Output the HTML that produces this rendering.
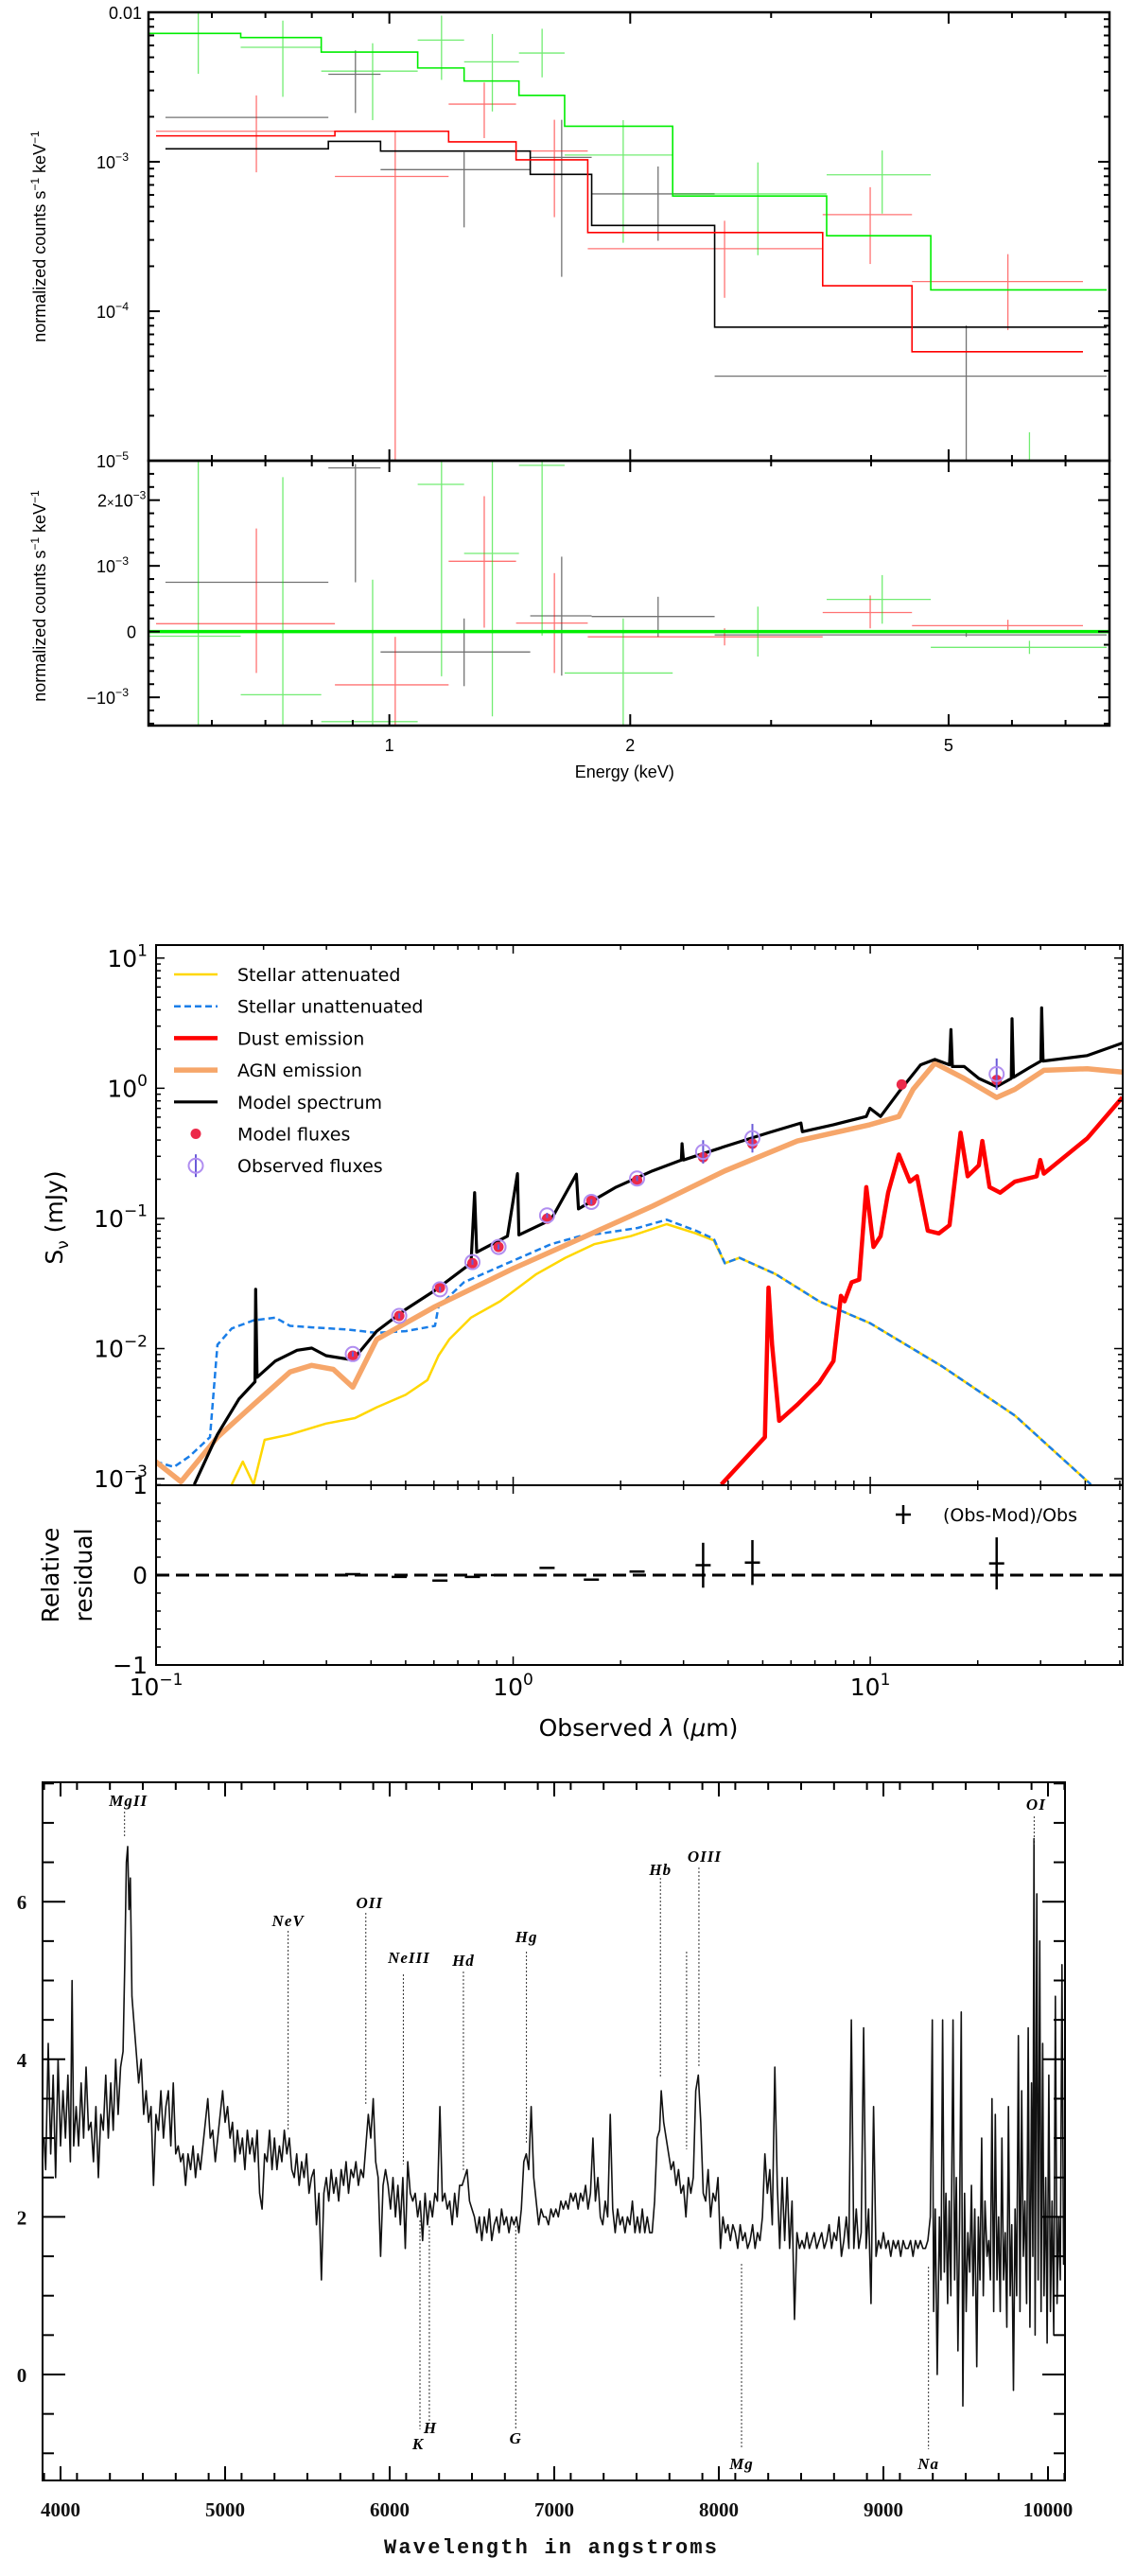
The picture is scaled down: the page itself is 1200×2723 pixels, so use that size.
<!DOCTYPE html>
<html><head><meta charset="utf-8"><title>X-ray, SED and optical spectrum</title>
<style>
html,body{margin:0;padding:0;background:#fff;}
svg{display:block;}
.sans{font-family:"Liberation Sans",Arial,sans-serif;}
.dj{font-family:"DejaVu Sans","Liberation Sans",sans-serif;}
.ser{font-family:"Liberation Serif","DejaVu Serif",serif;font-weight:bold;}
</style></head>
<body>
<svg id="fig" xmlns="http://www.w3.org/2000/svg" width="1200" height="2723" viewBox="0 0 1200 2723">
<rect x="0" y="0" width="1200" height="2723" fill="#fff"/>
<defs>
<clipPath id="cx1"><rect x="157" y="13" width="1016" height="474"/></clipPath>
<clipPath id="cx2"><rect x="157" y="487" width="1016" height="280"/></clipPath>
<clipPath id="cs1"><rect x="165" y="999" width="1022" height="571"/></clipPath>
<clipPath id="cs2"><rect x="165" y="1570" width="1022" height="190"/></clipPath>
<clipPath id="cp"><rect x="45" y="1884" width="1081" height="738"/></clipPath>
</defs>
<g id="xray"></g>
<g id="sed"></g>
<g id="spec"></g>
</svg>
<script>
// ================= X-RAY DATA =================
const greenModelEdges=[0.50,0.652,0.822,1.085,1.24,1.452,1.656,2.26,3.52,4.75,7.88];
const greenModelVals=[7.22e-3,6.78e-3,5.42e-3,4.24e-3,3.47e-3,2.78e-3,1.73e-3,5.9e-4,3.2e-4,1.39e-4];
const redModelEdges=[0.511,0.855,1.186,1.44,1.77,3.48,4.50,7.36];
const redModelVals=[1.49e-3,1.60e-3,1.36e-3,1.03e-3,3.36e-4,1.48e-4,5.36e-5];
const blackModelEdges=[0.525,0.839,0.975,1.50,1.79,2.55,7.88];
const blackModelVals=[1.22e-3,1.37e-3,1.18e-3,8.24e-4,3.75e-4,7.83e-5];

const blackLo=[0.525,0.839,0.975,1.50,1.79,2.55];
const blackHi=[0.839,0.975,1.50,1.79,2.55,7.88];
const blackCen=[0.66,0.907,1.24,1.642,2.167,5.26];
const blackY=[1.98e-3,3.85e-3,8.86e-4,1.07e-3,6.1e-4,3.68e-5];
const blackYlo=[1.98e-3,2.12e-3,3.64e-4,1.70e-4,2.96e-4,5e-6];
const blackYhi=[1.98e-3,5.56e-3,1.16e-3,1.91e-3,9.3e-4,8.03e-5];

const redLo=[0.511,0.855,1.186,1.44,1.77,3.48,4.50];
const redHi=[0.855,1.186,1.44,1.77,3.48,4.50,7.36];
const redCen=[0.682,1.017,1.314,1.608,2.624,3.99,5.93];
const redY=[1.60e-3,7.98e-4,2.43e-3,1.18e-3,2.62e-4,4.43e-4,1.58e-4];
const redYlo=[8.5e-4,5e-6,1.44e-3,4.26e-4,1.23e-4,2.07e-4,7.48e-5];
const redYhi=[2.78e-3,1.60e-3,3.39e-3,1.91e-3,4.03e-4,6.76e-4,2.41e-4];

const greenLo=[0.50,0.652,0.822,1.085,1.24,1.452,1.656,2.26,3.52,4.75];
const greenHi=[0.652,0.822,1.085,1.24,1.452,1.656,2.26,3.52,4.75,7.88];
const greenCen=[0.577,0.736,0.953,1.162,1.345,1.552,1.960,2.888,4.13,6.31];
const greenY=[7.22e-3,5.83e-3,4.04e-3,6.52e-3,4.66e-3,5.34e-3,1.11e-3,6.1e-4,8.18e-4,5e-6];
const greenYlo=[3.88e-3,2.72e-3,1.90e-3,3.53e-3,2.17e-3,3.67e-3,2.87e-4,2.37e-4,4.5e-4,5e-6];
const greenYhi=[1.2e-2,8.8e-3,6.21e-3,9.5e-3,7.16e-3,7.76e-3,1.90e-3,9.9e-4,1.19e-3,1.55e-5];

// residuals in units of 1e-3
const blackRes=[0.75,2.49,-0.31,0.24,0.23,-0.05];
const blackResLo=[0.75,0.75,-0.83,-0.67,-0.08,-0.08];
const blackResHi=[0.75,2.55,0.2,1.14,0.53,-0.02];
const redRes=[0.12,-0.81,1.07,0.13,-0.08,0.29,0.09];
const redResLo=[-0.63,-1.46,0.06,-0.63,-0.21,0.05,0.0];
const redResHi=[1.57,-0.08,2.06,0.89,0.05,0.55,0.18];
const greenRes=[-0.07,-0.96,-1.37,2.24,1.19,2.53,-0.63,0.0,0.49,-0.24];
const greenResLo=[-1.46,-1.46,-1.46,-0.68,-1.29,-0.06,-1.46,-0.38,0.12,-0.34];
const greenResHi=[2.64,2.35,0.79,2.64,2.64,2.64,0.2,0.38,0.86,-0.14];

const xrayXTicks=[1,2,5];
const xrayXTickLabels=["1","2","5"];

// ================= SED DATA (log10 lambda [um], log10 flux [mJy]) =================
const agnLogLam=[-1.001,-0.930,-0.828,-0.727,-0.625,-0.564,-0.504,-0.449,-0.382,-0.219,0,0.187,0.390,0.593,0.796,0.999,1.080,1.120,1.181,1.263,1.354,1.405,1.486,1.608,1.706];
const agnLogF=[-2.868,-3.023,-2.681,-2.430,-2.180,-2.129,-2.159,-2.296,-1.929,-1.678,-1.386,-1.157,-0.906,-0.635,-0.405,-0.280,-0.217,-0.008,0.192,0.075,-0.071,-0.008,0.138,0.150,0.125];
const modelLogLam=[-0.893,-0.828,-0.768,-0.723,-0.721,-0.717,-0.666,-0.605,-0.564,-0.524,-0.449,-0.382,-0.301,-0.219,-0.118,-0.108,-0.102,-0.016,0.012,0.016,0.106,0.177,0.183,0.288,0.390,0.471,0.473,0.477,0.593,0.715,0.806,0.810,0.897,0.989,0.999,1.029,1.080,1.141,1.181,1.222,1.226,1.230,1.263,1.304,1.354,1.395,1.397,1.401,1.446,1.478,1.480,1.484,1.608,1.706];
const modelLogF=[-3.044,-2.660,-2.388,-2.255,-1.545,-2.221,-2.096,-2.013,-1.996,-2.054,-2.088,-1.866,-1.699,-1.553,-1.344,-0.802,-1.260,-1.136,-0.656,-1.127,-1.010,-0.660,-0.927,-0.760,-0.635,-0.551,-0.426,-0.551,-0.447,-0.342,-0.267,-0.334,-0.280,-0.217,-0.154,-0.217,-0.029,0.180,0.221,0.180,0.451,0.167,0.167,0.075,0.013,0.075,0.534,0.084,0.159,0.209,0.618,0.209,0.251,0.347];
const unattLogLam=[-1.001,-0.950,-0.906,-0.849,-0.828,-0.788,-0.727,-0.666,-0.625,-0.564,-0.463,-0.382,-0.301,-0.219,-0.209,-0.138,-0.016,0.106,0.187,0.248,0.349,0.430,0.512,0.562,0.593,0.634,0.735,0.857,0.999,1.202,1.405,1.618];
const unattLogF=[-2.868,-2.910,-2.827,-2.681,-1.971,-1.846,-1.783,-1.762,-1.825,-1.837,-1.854,-1.879,-1.866,-1.825,-1.678,-1.491,-1.344,-1.198,-1.136,-1.115,-1.073,-1.010,-1.094,-1.157,-1.344,-1.303,-1.428,-1.637,-1.804,-2.138,-2.514,-3.044];
const attLogLam=[-0.788,-0.757,-0.727,-0.696,-0.625,-0.524,-0.443,-0.382,-0.301,-0.240,-0.209,-0.179,-0.118,-0.037,0.065,0.146,0.227,0.329,0.430,0.512,0.562,0.593,0.634,0.735,0.857,0.999,1.202,1.405,1.618];
const attLogF=[-3.044,-2.868,-3.044,-2.701,-2.660,-2.576,-2.534,-2.451,-2.355,-2.242,-2.054,-1.929,-1.762,-1.637,-1.428,-1.303,-1.198,-1.136,-1.044,-1.115,-1.169,-1.344,-1.303,-1.428,-1.637,-1.804,-2.138,-2.514,-3.044];
const dustLogLam=[0.583,0.705,0.715,0.725,0.745,0.796,0.857,0.897,0.918,0.928,0.948,0.969,0.989,1.009,1.029,1.050,1.080,1.111,1.131,1.161,1.192,1.222,1.253,1.273,1.304,1.314,1.334,1.364,1.405,1.466,1.476,1.486,1.608,1.706];
const dustLogF=[-3.044,-2.681,-1.532,-1.971,-2.555,-2.430,-2.263,-2.096,-1.595,-1.637,-1.491,-1.470,-0.760,-1.219,-1.136,-0.802,-0.509,-0.718,-0.676,-1.094,-1.115,-1.052,-0.342,-0.676,-0.593,-0.405,-0.760,-0.802,-0.718,-0.676,-0.551,-0.656,-0.384,-0.071];
const bandLogLam=[-0.449,-0.319,-0.205,-0.114,-0.041,0.095,0.219,0.347,0.532,0.670,1.088,1.354];
const modelFluxLogF=[-2.054,-1.749,-1.532,-1.344,-1.219,-1.002,-0.864,-0.706,-0.530,-0.426,0.029,0.063];
const obsFluxLogF=[-2.042,-1.749,-1.545,-1.336,-1.219,-0.977,-0.873,-0.693,-0.489,-0.384,null,0.109];
const obsFluxLogErr=[0.02,0.02,0.02,0.02,0.02,0.02,0.02,0.02,0.09,0.11,0,0.12];
const residVals=[0.01,-0.02,-0.06,-0.02,0.0,0.08,-0.05,0.04,0.11,0.14,null,0.13];
const residErr=[0,0,0,0,0,0,0,0,0.25,0.25,0,0.29];
const sedLegendLabels=["Stellar attenuated","Stellar unattenuated","Dust emission","AGN emission","Model spectrum","Model fluxes","Observed fluxes"];

// ================= OPTICAL SPECTRUM DATA =================
const specData=[[3900,3.0],[3910,2.6],[3925,4.2],[3940,2.8],[3955,3.8],[3970,2.5],[3985,4.0],[4000,2.9],[4015,3.6],[4030,3.0],[4045,3.8],[4060,2.7],[4070,5.0],[4080,2.9],[4095,3.4],[4110,2.9],[4125,3.7],[4140,3.0],[4155,3.9],[4170,3.1],[4185,3.2],[4200,2.7],[4215,3.4],[4230,2.5],[4245,3.3],[4260,3.1],[4275,3.8],[4290,3.0],[4305,3.7],[4320,3.1],[4335,4.0],[4350,3.3],[4365,3.9],[4380,4.1],[4390,5.2],[4400,6.5],[4408,6.7],[4416,5.9],[4424,6.3],[4434,4.8],[4445,4.5],[4460,4.1],[4475,3.7],[4490,4.0],[4505,3.3],[4520,3.6],[4535,3.2],[4550,3.4],[4565,2.4],[4580,3.3],[4595,3.1],[4610,3.6],[4625,3.0],[4640,3.4],[4655,3.6],[4670,2.9],[4685,3.7],[4700,2.8],[4715,2.9],[4730,2.7],[4745,2.8],[4760,2.4],[4775,2.8],[4790,2.6],[4805,2.9],[4820,2.5],[4835,2.8],[4850,2.6],[4865,2.9],[4880,3.2],[4895,3.5],[4910,3.0],[4925,3.1],[4940,2.7],[4955,3.0],[4970,3.3],[4985,3.6],[5000,3.2],[5015,3.4],[5030,3.0],[5045,3.2],[5060,2.7],[5075,3.1],[5090,2.8],[5105,3.0],[5120,2.6],[5135,3.1],[5150,2.8],[5165,3.0],[5180,2.7],[5195,3.1],[5210,2.3],[5225,2.1],[5240,2.8],[5255,2.7],[5270,3.1],[5285,2.6],[5300,3.0],[5315,2.6],[5330,2.9],[5345,2.7],[5360,3.1],[5375,2.8],[5390,3.0],[5405,2.6],[5420,2.5],[5435,2.8],[5450,2.4],[5465,2.7],[5480,2.5],[5495,2.8],[5510,2.3],[5525,2.5],[5540,2.6],[5555,1.9],[5570,2.3],[5585,1.2],[5600,2.3],[5615,2.5],[5630,2.2],[5645,2.6],[5660,2.3],[5675,2.5],[5690,2.2],[5705,2.6],[5720,2.4],[5735,2.7],[5750,2.3],[5765,2.6],[5780,2.5],[5795,2.7],[5810,2.4],[5825,2.6],[5840,2.5],[5855,2.9],[5870,3.3],[5885,3.0],[5900,3.5],[5915,2.7],[5930,2.5],[5945,1.5],[5960,2.4],[5975,2.6],[5990,2.4],[6005,2.1],[6020,2.5],[6035,2.0],[6050,2.4],[6065,1.9],[6080,2.5],[6095,1.6],[6110,2.7],[6125,2.3],[6140,2.2],[6155,2.3],[6170,2.0],[6185,2.2],[6200,1.7],[6215,2.3],[6230,1.9],[6245,2.2],[6260,2.0],[6275,2.3],[6290,2.2],[6305,3.4],[6320,2.2],[6335,2.3],[6350,2.1],[6365,2.2],[6380,1.9],[6395,2.3],[6410,2.0],[6425,2.4],[6440,2.4],[6455,2.5],[6470,2.6],[6485,2.2],[6500,2.1],[6515,2.0],[6530,1.8],[6545,2.0],[6560,1.7],[6575,2.0],[6590,1.8],[6605,2.1],[6620,1.7],[6635,1.9],[6650,2.0],[6665,1.8],[6680,2.1],[6695,1.9],[6710,2.0],[6725,1.8],[6740,2.0],[6755,1.9],[6770,2.0],[6785,1.8],[6800,2.1],[6815,2.7],[6830,2.8],[6845,2.6],[6860,3.4],[6875,2.5],[6890,2.2],[6905,1.9],[6920,2.1],[6935,2.0],[6950,2.0],[6965,1.9],[6980,2.1],[6995,2.0],[7010,2.1],[7025,2.0],[7040,2.2],[7055,2.1],[7070,2.2],[7085,2.1],[7100,2.3],[7115,2.2],[7130,2.3],[7145,2.1],[7160,2.3],[7175,2.2],[7190,2.4],[7205,2.1],[7220,2.3],[7235,3.0],[7250,2.2],[7265,2.5],[7280,2.0],[7295,1.9],[7310,2.2],[7325,2.0],[7340,3.3],[7355,2.1],[7370,1.8],[7385,2.1],[7400,1.9],[7415,2.0],[7430,1.8],[7445,2.0],[7460,1.9],[7475,2.2],[7490,1.8],[7505,2.0],[7520,1.8],[7535,2.1],[7550,1.8],[7565,2.0],[7580,1.8],[7595,1.8],[7610,2.2],[7625,3.0],[7640,3.1],[7650,3.6],[7665,3.2],[7680,3.0],[7695,2.8],[7710,2.6],[7725,2.7],[7740,2.4],[7755,2.6],[7770,2.3],[7785,2.4],[7800,2.0],[7815,2.5],[7830,2.3],[7845,2.5],[7860,3.6],[7875,3.8],[7890,3.2],[7905,2.3],[7920,2.2],[7935,2.6],[7950,2.0],[7965,2.3],[7980,2.2],[7995,2.5],[8010,1.6],[8025,2.0],[8040,1.8],[8055,1.9],[8070,1.7],[8085,1.9],[8100,1.8],[8115,1.6],[8130,1.9],[8145,1.7],[8160,1.8],[8175,1.6],[8190,1.7],[8205,1.9],[8220,1.6],[8235,1.8],[8250,1.7],[8265,2.0],[8280,2.8],[8295,2.3],[8310,2.6],[8325,1.9],[8340,3.9],[8355,2.4],[8370,1.6],[8385,2.5],[8400,1.7],[8415,2.5],[8430,1.6],[8445,2.2],[8460,0.7],[8475,1.8],[8490,1.6],[8505,1.7],[8520,1.6],[8535,1.8],[8550,1.6],[8565,1.7],[8580,1.8],[8595,1.6],[8610,1.7],[8625,1.8],[8640,1.6],[8655,1.7],[8670,1.9],[8685,1.6],[8700,1.8],[8715,1.7],[8730,2.0],[8745,1.5],[8760,1.7],[8775,2.0],[8790,1.6],[8805,4.5],[8820,1.6],[8835,2.1],[8850,1.6],[8865,1.8],[8880,4.4],[8895,1.6],[8910,2.1],[8925,0.9],[8940,3.4],[8955,1.5],[8970,1.7],[8985,1.6],[9000,1.8],[9015,1.6],[9030,1.7],[9045,1.5],[9060,1.7],[9075,1.6],[9090,1.7],[9105,1.5],[9120,1.7],[9135,1.6],[9150,1.6],[9165,1.7],[9180,1.5],[9195,1.7],[9210,1.6],[9225,1.7],[9240,1.6],[9255,1.6],[9270,1.7],[9285,2.0],[9297,4.5],[9305,0.8],[9315,2.1],[9327,0.0],[9340,2.0],[9350,1.2],[9360,4.5],[9370,1.3],[9380,2.3],[9390,0.9],[9400,2.2],[9410,1.0],[9423,4.5],[9433,1.2],[9443,2.5],[9453,0.3],[9463,2.0],[9473,4.6],[9483,-0.4],[9493,2.3],[9503,0.8],[9513,1.8],[9525,1.3],[9535,2.4],[9545,1.0],[9555,2.1],[9567,0.1],[9577,2.0],[9587,1.2],[9597,3.0],[9607,1.0],[9617,2.2],[9630,1.5],[9640,1.7],[9650,1.2],[9660,3.5],[9670,0.8],[9680,3.3],[9690,1.2],[9700,2.0],[9710,0.8],[9720,3.0],[9730,1.2],[9740,1.8],[9750,0.6],[9760,3.4],[9770,1.0],[9780,1.9],[9790,-0.2],[9800,2.1],[9810,1.0],[9820,4.3],[9830,0.8],[9840,3.6],[9850,1.5],[9860,2.2],[9870,0.9],[9880,4.4],[9890,0.6],[9900,3.7],[9908,1.5],[9915,6.8],[9922,0.5],[9932,6.1],[9940,1.2],[9950,5.5],[9958,0.8],[9968,4.2],[9976,1.0],[9986,2.5],[9995,0.4],[10005,3.8],[10015,0.8],[10025,2.2],[10035,0.5],[10045,4.8],[10055,0.9],[10065,2.0],[10075,1.2],[10085,5.2],[10095,1.4],[10102,1.5]];
const lineLabels=["MgII","NeV","OII","NeIII","Hd","Hg","Hb","OIII","OI","K","H","G","Mg","Na"];
const lineWaves=[4389,5383,5855,6083,6448,6831,7645,7879,9916,6184,6241,6766,8138,9274];
const specXTicks=[4000,5000,6000,7000,8000,9000,10000];
const specYTicks=[0,2,4,6];

// ================= HELPERS =================
const NS="http://www.w3.org/2000/svg";
function mk(tag,attrs,parent){const e=document.createElementNS(NS,tag);for(const k in attrs)e.setAttribute(k,attrs[k]);parent.appendChild(e);return e;}
function txt(s,attrs,parent){const e=mk('text',attrs,parent);e.textContent=s;return e;}
function sup(base,exp,attrs,parent,fs){const t=mk('text',attrs,parent);const a=document.createElementNS(NS,'tspan');a.textContent=base;t.appendChild(a);const b=document.createElementNS(NS,'tspan');b.setAttribute('dy',String(-fs*0.45));b.setAttribute('font-size',String(fs*0.68));b.textContent=exp;t.appendChild(b);return t;}

// ================= X-RAY =================
(function(){
const g=document.getElementById('xray');
const XL=157,XR=1173,LE0=Math.log10(0.5),LE1=0.9;
const ex=e=>XL+(Math.log10(e)-LE0)/(LE1-LE0)*(XR-XL);
const T1=13,B1=487;
const ey1=v=>T1+(-2-Math.log10(Math.max(v,1e-7)))/3*(B1-T1);
const T2=487,B2=767,R0=2.6,R1=-1.43;
const ey2=v=>T2+(R0-v)/(R0-R1)*(B2-T2);
const gp1=mk('g',{'clip-path':'url(#cx1)'},g);
const gp2=mk('g',{'clip-path':'url(#cx2)'},g);
function step(edges,vals,col,name){
  let d='M'+ex(edges[0])+' '+ey1(vals[0]);
  for(let i=0;i<vals.length;i++){d+=' H'+ex(edges[i+1]);if(i+1<vals.length)d+=' V'+ey1(vals[i+1]);}
  const p=mk('path',{d:d,fill:'none',stroke:col,'stroke-width':1.6},gp1);
  
  
}
function crosses(par,yf,lo,hi,cen,y,ylo,yhi,col,name){
  for(let i=0;i<lo.length;i++){
    const c=mk('g',{stroke:col,'stroke-width':1.3,opacity:0.55},par);
    
    
    mk('line',{x1:ex(lo[i]),x2:ex(hi[i]),y1:yf(y[i]),y2:yf(y[i])},c);
    mk('line',{x1:ex(cen[i]),x2:ex(cen[i]),y1:yf(ylo[i]),y2:yf(yhi[i])},c);
  }
}
crosses(gp1,ey1,blackLo,blackHi,blackCen,blackY,blackYlo,blackYhi,'#000','black-data-point');
crosses(gp1,ey1,redLo,redHi,redCen,redY,redYlo,redYhi,'#ff0000','red-data-point');
crosses(gp1,ey1,greenLo,greenHi,greenCen,greenY,greenYlo,greenYhi,'#00dd00','green-data-point');
step(blackModelEdges,blackModelVals,'#000','black-model-step');
step(redModelEdges,redModelVals,'#ff0000','red-model-step');
step(greenModelEdges,greenModelVals,'#00ee00','green-model-step');
const k=1e-3;
crosses(gp2,v=>ey2(v),blackLo,blackHi,blackCen,blackRes,blackResLo,blackResHi,'#000','black-residual');
crosses(gp2,v=>ey2(v),redLo,redHi,redCen,redRes,redResLo,redResHi,'#ff0000','red-residual');
crosses(gp2,v=>ey2(v),greenLo,greenHi,greenCen,greenRes,greenResLo,greenResHi,'#00dd00','green-residual');
const zl=mk('line',{x1:XL,x2:XR,y1:ey2(0),y2:ey2(0),stroke:'#00ee00','stroke-width':3.5},gp2);


// frames
const f1=mk('rect',{x:XL,y:T1,width:XR-XL,height:B1-T1,fill:'none',stroke:'#000','stroke-width':2.5},g);


const f2=mk('rect',{x:XL,y:T2,width:XR-XL,height:B2-T2,fill:'none',stroke:'#000','stroke-width':2.5},g);


// x ticks
const tk=mk('g',{stroke:'#000','stroke-width':2},g);
const xt=[0.5,0.6,0.7,0.8,0.9,1,2,3,4,5,6,7];
xt.forEach(e=>{const maj=(e===1||e===2||e===5);const L=maj?12:6;const X=ex(e);
  [T1,T2].forEach(t=>mk('line',{x1:X,x2:X,y1:t,y2:t+L},tk));
  [B1,B2].forEach(b=>mk('line',{x1:X,x2:X,y1:b,y2:b-L},tk));});
// y ticks top log
for(let d=-5;d<-2;d++){for(let m=1;m<10;m++){const v=m*Math.pow(10,d);const Y=ey1(v);const L=m===1?12:6;
  mk('line',{x1:XL,x2:XL+L,y1:Y,y2:Y},tk);mk('line',{x1:XR,x2:XR-L,y1:Y,y2:Y},tk);}}
// y ticks residual
for(let v=-1.4;v<=2.6;v+=0.2){const r=Math.round(v*10)/10;const maj=Math.abs(r-Math.round(r))<1e-6;const Y=ey2(r);const L=maj?12:6;
  mk('line',{x1:XL,x2:XL+L,y1:Y,y2:Y},tk);mk('line',{x1:XR,x2:XR-L,y1:Y,y2:Y},tk);}
// labels
const lab=mk('g',{class:'sans','font-size':18,fill:'#000'},g);
const t001=txt('0.01',{x:150,y:20,'text-anchor':'end'},lab);


[[-3,'−3'],[-4,'−4'],[-5,'−5']].forEach(([d,s])=>{const t=sup('10',s,{x:136,y:ey1(Math.pow(10,d))+7,'text-anchor':'end'},lab,18);});
const r2=mk('text',{x:103,y:ey2(2)+7},lab);r2.innerHTML='2<tspan font-size="13">×</tspan>10<tspan dy="-8" font-size="12">−3</tspan>';


const r1=sup('10','−3',{x:136,y:ey2(1)+7,'text-anchor':'end'},lab,18);


const r0=txt('0',{x:144,y:ey2(0)+7,'text-anchor':'end'},lab);


const rm=sup('−10','−3',{x:136,y:ey2(-1)+7,'text-anchor':'end'},lab,18);


xrayXTicks.forEach((e,i)=>{const t=txt(xrayXTickLabels[i],{x:ex(e),y:794,'text-anchor':'middle'},lab);
  
  });
const xl=txt('Energy (keV)',{x:ex(2)-6,y:822,'text-anchor':'middle'},lab);


[[250,'top'],[630,'bottom']].forEach(([cy,nm])=>{
  const t=mk('text',{x:0,y:0,'text-anchor':'middle',transform:'translate(48,'+cy+') rotate(-90)'},lab);
  t.innerHTML='normalized counts s<tspan dy="-7" font-size="12">−1</tspan><tspan dy="7"> keV</tspan><tspan dy="-7" font-size="12">−1</tspan>';
  
  
});
})();

// ================= SED =================
(function(){
const g=document.getElementById('sed');
const XL=165,XR=1187,L0=-1,L1=1.707;
const sx=l=>XL+(l-L0)/(L1-L0)*(XR-XL);
const T=999,B=1570,F0=-3.05,F1=1.1;
const sy=f=>T+(F1-f)/(F1-F0)*(B-T);
const RB=1760;
const ry=v=>B+(1-v)/2*(RB-B);
const p1=mk('g',{'clip-path':'url(#cs1)'},g);
const p2=mk('g',{'clip-path':'url(#cs2)'},g);
function curve(ll,lf,col,w,name,dash){
  let d='';for(let i=0;i<ll.length;i++)d+=(i?'L':'M')+sx(ll[i]).toFixed(1)+' '+sy(lf[i]).toFixed(1);
  const a={d:d,fill:'none',stroke:col,'stroke-width':w,'stroke-linejoin':'round'};if(dash)a['stroke-dasharray']=dash;
  const p=mk('path',a,p1);
  
  
}
curve(attLogLam,attLogF,'#FFD700',2.5,'stellar-attenuated-line');
curve(unattLogLam,unattLogF,'#1a7ee8',2.5,'stellar-unattenuated-line','7,4');
curve(dustLogLam,dustLogF,'#ff0000',4.5,'dust-emission-line');
curve(agnLogLam,agnLogF,'#f6a66a',5.5,'agn-emission-line');
curve(modelLogLam,modelLogF,'#000',3.2,'model-spectrum-line');
for(let i=0;i<bandLogLam.length;i++){
  const X=sx(bandLogLam[i]);
  const d=mk('circle',{cx:X,cy:sy(modelFluxLogF[i]),r:5.5,fill:'#ec2a4a'},p1);
  
  
  if(obsFluxLogF[i]!==null){
    const o=mk('g',{},p1);
    
    
    mk('line',{x1:X,x2:X,y1:sy(obsFluxLogF[i]+obsFluxLogErr[i]),y2:sy(obsFluxLogF[i]-obsFluxLogErr[i]),stroke:'#6a5ad8','stroke-width':2},o);
    mk('circle',{cx:X,cy:sy(obsFluxLogF[i]),r:7.5,fill:'none',stroke:'#b08ef0','stroke-width':2},o);
  }
}
// residuals
const zl=mk('line',{x1:XL,x2:XR,y1:ry(0),y2:ry(0),stroke:'#000','stroke-width':3,'stroke-dasharray':'14,7'},p2);


for(let i=0;i<bandLogLam.length;i++){if(residVals[i]===null)continue;
  const X=sx(bandLogLam[i]);const Y=ry(residVals[i]);
  const r=mk('g',{stroke:'#000','stroke-width':2.5},p2);
  
  
  mk('line',{x1:X-8,x2:X+8,y1:Y,y2:Y},r);
  if(residErr[i]>0)mk('line',{x1:X,x2:X,y1:ry(residVals[i]+residErr[i]),y2:ry(residVals[i]-residErr[i])},r);
}
// frame
const fr=mk('g',{fill:'none',stroke:'#000','stroke-width':2},g);


mk('rect',{x:XL,y:T,width:XR-XL,height:RB-T},fr);
mk('line',{x1:XL,x2:XR,y1:B,y2:B},fr);
// ticks
const tk=mk('g',{stroke:'#000','stroke-width':1.5},g);
for(let d=-1;d<=1;d++){for(let m=1;m<10;m++){const l=d+Math.log10(m);if(l>L1)break;const X=sx(l);const L=m===1?9:5;
  [T,B].forEach(t=>mk('line',{x1:X,x2:X,y1:t,y2:t+L},tk));[B,RB].forEach(b=>mk('line',{x1:X,x2:X,y1:b,y2:b-L},tk));}}
for(let d=-4;d<=1;d++){for(let m=1;m<10;m++){const l=d+Math.log10(m);if(l<F0||l>F1)continue;const Y=sy(l);const L=m===1?9:5;
  mk('line',{x1:XL,x2:XL+L,y1:Y,y2:Y},tk);mk('line',{x1:XR,x2:XR-L,y1:Y,y2:Y},tk);}}
for(let v=-1;v<=1.001;v+=0.2){const Y=ry(v);const maj=Math.abs(v-Math.round(v))<1e-6;const L=maj?9:5;
  mk('line',{x1:XL,x2:XL+L,y1:Y,y2:Y},tk);mk('line',{x1:XR,x2:XR-L,y1:Y,y2:Y},tk);}
// labels
const lab=mk('g',{class:'dj','font-size':25,fill:'#000'},g);
[[-1,'−1'],[0,'0'],[1,'1']].forEach(([l,s])=>{const t=sup('10',s,{x:sx(l),y:1792,'text-anchor':'middle'},lab,25);
  
  });
[[-3,'−3'],[-2,'−2'],[-1,'−1'],[0,'0'],[1,'1']].forEach(([l,s])=>{const t=sup('10',s,{x:156,y:sy(l)+9,'text-anchor':'end'},lab,25);
  
  });
[[1,'1'],[0,'0'],[-1,'−1']].forEach(([v,s])=>{const t=txt(s,{x:156,y:ry(v)+9,'text-anchor':'end'},lab);
  
  });
const xt=mk('text',{x:675,y:1835,'text-anchor':'middle'},lab);
xt.innerHTML='Observed <tspan font-style="italic">λ</tspan> (<tspan font-style="italic">μ</tspan>m)';


const yt=mk('text',{'text-anchor':'middle',transform:'translate(66,1287) rotate(-90)'},lab);
yt.innerHTML='S<tspan font-size="17" dy="6">ν</tspan><tspan dy="-6"> (mJy)</tspan>';


const rt1=txt('Relative',{'text-anchor':'middle',transform:'translate(62,1665) rotate(-90)'},lab);


const rt2=txt('residual',{'text-anchor':'middle',transform:'translate(97,1665) rotate(-90)'},lab);


// legend
const lg=mk('g',{class:'dj','font-size':19},g);


const styles=[['#FFD700',2.5,''],['#1a7ee8',2.5,'7,4'],['#ff0000',4.5,''],['#f6a66a',5.5,''],['#000',3.2,'']];
sedLegendLabels.forEach((s,i)=>{const Y=1030+i*33.7;
  const e=mk('g',{},lg);
  
  
  if(i<5){const a={x1:184,x2:230,y1:Y,y2:Y,stroke:styles[i][0],'stroke-width':styles[i][1]};if(styles[i][2])a['stroke-dasharray']=styles[i][2];mk('line',a,e);}
  else if(i===5){mk('circle',{cx:207,cy:Y,r:5.5,fill:'#ec2a4a'},e);}
  else{mk('line',{x1:207,x2:207,y1:Y-12,y2:Y+12,stroke:'#6a5ad8','stroke-width':2},e);mk('circle',{cx:207,cy:Y,r:7.5,fill:'none',stroke:'#b08ef0','stroke-width':2},e);}
  txt(s,{x:251,y:Y+7},e);
});
const rl=mk('g',{},g);


mk('line',{x1:947,x2:963,y1:1601,y2:1601,stroke:'#000','stroke-width':2.5},rl);
mk('line',{x1:955,x2:955,y1:1591,y2:1611,stroke:'#000','stroke-width':2.5},rl);
txt('(Obs-Mod)/Obs',{x:997,y:1608,class:'dj','font-size':19},rl);
})();

// ================= OPTICAL SPECTRUM =================
(function(){
const g=document.getElementById('spec');
const XL=45,XR=1126,T=1884,B=2622;
const wx=w=>64+(w-4000)*0.174;
const fy=f=>2510-f*83.3;
const cg=mk('g',{'clip-path':'url(#cp)'},g);
let d='';specData.forEach((p,i)=>{d+=(i?'L':'M')+wx(p[0]).toFixed(1)+' '+fy(p[1]).toFixed(1);});
const sp=mk('path',{d:d,fill:'none',stroke:'#111','stroke-width':1.6,'stroke-linejoin':'round'},cg);


const fr=mk('rect',{x:XL,y:T,width:XR-XL,height:B-T,fill:'none',stroke:'#000','stroke-width':2},g);


const tk=mk('g',{stroke:'#000','stroke-width':2},g);
for(let w=3900;w<=10100;w+=200){if(w<3891)continue;const X=wx(w);const maj=w%1000===0;const L=maj?15:8;
  mk('line',{x1:X,x2:X,y1:T,y2:T+L},tk);mk('line',{x1:X,x2:X,y1:B,y2:B-L},tk);}
for(let w=4000;w<=10000;w+=1000){const X=wx(w);mk('line',{x1:X,x2:X,y1:T,y2:T+15},tk);mk('line',{x1:X,x2:X,y1:B,y2:B-15},tk);}
for(let v=-1;v<=7.5;v+=0.5){const Y=fy(v);const maj=(v%2===0);const L=maj?24:12;
  mk('line',{x1:XL,x2:XL+L,y1:Y,y2:Y},tk);mk('line',{x1:XR,x2:XR-L,y1:Y,y2:Y},tk);}
const lab=mk('g',{class:'ser','font-size':21,fill:'#111'},g);
specXTicks.forEach(w=>{const t=txt(String(w),{x:wx(w),y:2660,'text-anchor':'middle'},lab);
  
  });
specYTicks.forEach(v=>{const t=txt(String(v),{x:23,y:fy(v)+8,'text-anchor':'middle'},lab);
  
  });
const xt=txt('Wavelength in angstroms',{x:582,y:2699,'text-anchor':'middle',textLength:352,'font-family':'"Liberation Mono",monospace','font-size':22},lab);


// emission/absorption line markers: [labelY, lineTop, lineBottom, labelDx]
const markerGeom=[[1903,1915,1942,4],[2030,2041,2251,0],[2011,2022,2224,4],[2069,2087,2288,6],[2072,2084,2294,0],[2047,2063,2267,0],[1976,1985,2197,0],[1962,1974,2186,6],[1907,1920,1950,2],[2583,2347,2568,-2],[2566,2353,2562,1],[2577,2353,2568,0],[2604,2393,2589,0],[2604,2396,2589,0]];
const lg=mk('g',{},g);
lineLabels.forEach((s,i)=>{const X=wx(lineWaves[i]);const m=markerGeom[i];
  const e=mk('g',{},lg);
  
  
  mk('line',{x1:X,x2:X,y1:m[1],y2:m[2],stroke:'#333','stroke-width':1,'stroke-dasharray':'2,2'},e);
  txt(s,{x:X+m[3],y:m[0]+6,'text-anchor':'middle',class:'ser','font-style':'italic','font-size':17,'letter-spacing':'1'},e);
});
// second OIII component line
const X2=wx(7804);
const l2=mk('line',{x1:X2,x2:X2,y1:2063,y2:2272,stroke:'#333','stroke-width':1,'stroke-dasharray':'2,2'},lg);


})();
</script>
</body></html>
